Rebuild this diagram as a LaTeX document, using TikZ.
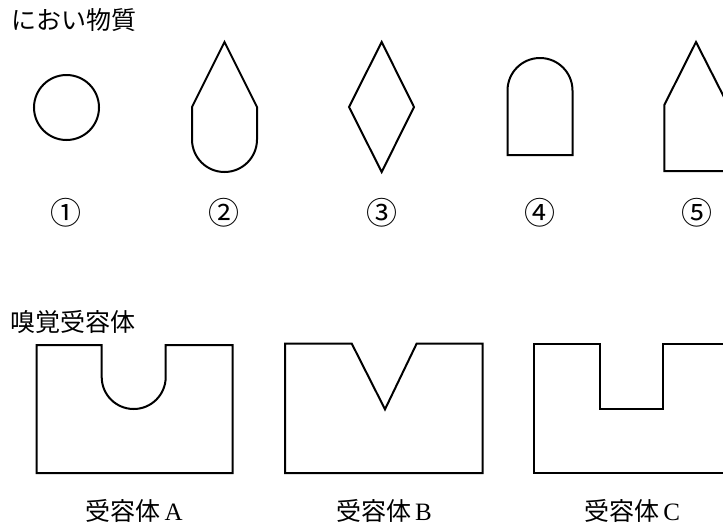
\documentclass[tikz,border=0pt]{standalone}
\usepackage{fontspec}
\newfontfamily\cjk{Noto Sans CJK JP}
\newfontfamily\lat{Liberation Serif}
\begin{document}
\begin{tikzpicture}[x=1pt,y=-1pt,
  outl/.style={draw=black,line width=2pt,line join=miter},
  lbl/.style={inner sep=0pt,font=\cjk\fontsize{25}{25}\selectfont},
  num/.style={inner sep=0pt,font=\cjk\fontsize{31}{31}\selectfont}]
\useasboundingbox (0,0) rectangle (723,528);
\clip (0,0) rectangle (723,528);
% titles
\node[lbl,anchor=west] (t1) at (11,20) {におい物質};
\node[lbl,anchor=west] (t2) at (10,322) {嗅覚受容体};
% odor substances
\draw[outl] (66.5,107.5) circle (32.5);
\draw[outl] (224.5,42) -- (257,107) -- (257,139.5) arc[start angle=0,end angle=180,x radius=32.5,y radius=32.5] -- (192,107) -- cycle;
\draw[outl] (381.7,42) -- (414,107) -- (381.7,172) -- (349,107) -- cycle;
\draw[outl] (507.5,155) -- (507.5,90.5) arc[start angle=180,end angle=0,x radius=32.5,y radius=-32.5] -- (572.5,155) -- cycle;
\draw[outl] (696,42) -- (728,105) -- (728,171) -- (664.3,171) -- (664.3,105) -- cycle;
\node[num] (n1) at (66,213) {①};
\node[num] (n2) at (224,213) {②};
\node[num] (n3) at (382,213) {③};
\node[num] (n4) at (540,213) {④};
\node[num] (n5) at (697,213) {⑤};
% receptors
\draw[outl] (36.7,345) -- (101.7,345) -- (101.7,377) arc[start angle=180,end angle=360,x radius=32,y radius=-32] -- (165.7,345) -- (232.7,345) -- (232.7,473) -- (36.7,473) -- cycle;
\draw[outl] (285,343.5) -- (351.7,343.5) -- (385,409.3) -- (416.7,343.5) -- (482.7,343.5) -- (482.7,473) -- (285,473) -- cycle;
\draw[outl] (534.3,343.5) -- (600,343.5) -- (600,409) -- (663.3,409) -- (663.3,343.5) -- (730,343.5) -- (730,472.7) -- (534.3,472.7) -- cycle;
\node[lbl] (rA) at (134,511) {受容体\,{\lat A}};
\node[lbl] (rB) at (384,511) {受容体\,{\lat B}};
\node[lbl] (rC) at (632,511) {受容体\,{\lat C}};
\end{tikzpicture}
\end{document}
